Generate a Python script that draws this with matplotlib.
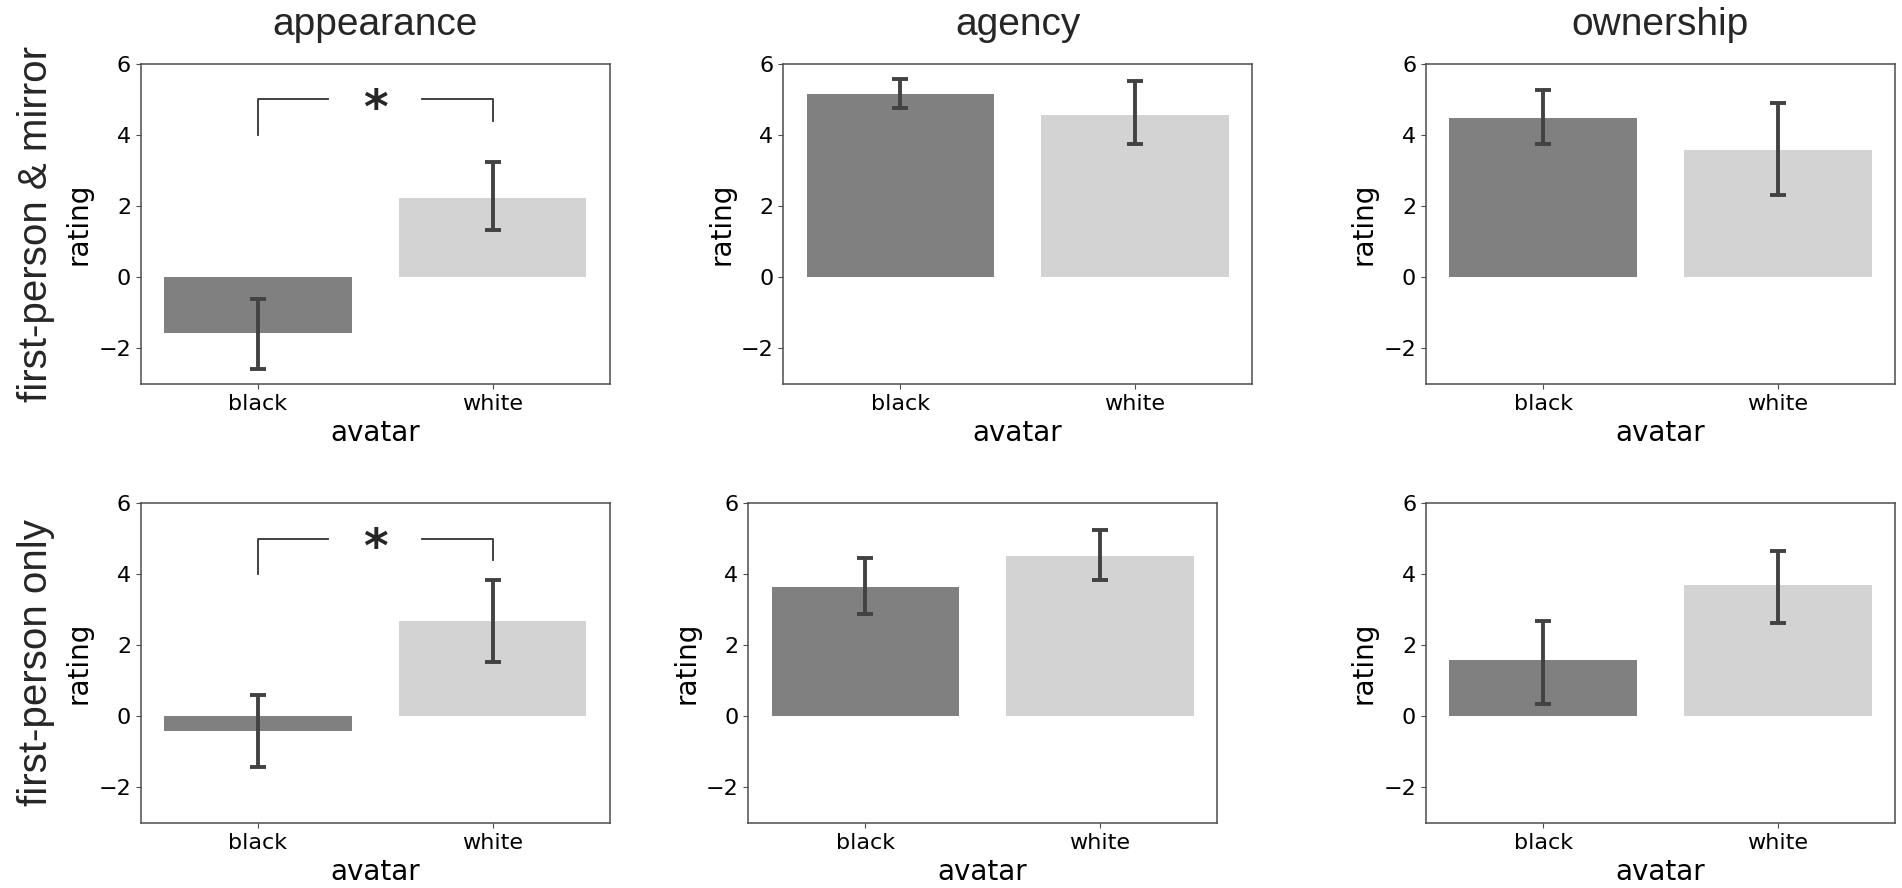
import numpy as np
import matplotlib
matplotlib.use("Agg")
import matplotlib.pyplot as plt

# labels
measures = ['appearance', 'agency', 'ownership']
conditions = ['first-person & mirror', 'first-person only']
avatars = ['black', 'white']

# mean rating per measure, [black, white]
mirror_means = [[-1.58, 2.22], [5.15, 4.57], [4.49, 3.57]]
only_means = [[-0.40, 2.69], [3.63, 4.51], [1.57, 3.68]]

# confidence interval ends per measure, [black, white]
mirror_lo = [[-2.58, 1.32], [4.75, 3.74], [3.74, 2.32]]
mirror_hi = [[-0.60, 3.23], [5.58, 5.51], [5.26, 4.91]]
only_lo = [[-1.43, 1.52], [2.87, 3.82], [0.34, 2.63]]
only_hi = [[0.60, 3.82], [4.46, 5.24], [2.69, 4.65]]

# significance marks: (measure index, star label)
significant = [(0, '*')]

means_all = [mirror_means, only_means]
lo_all = [mirror_lo, only_lo]
hi_all = [mirror_hi, only_hi]

bar_colors = ['#808080', '#d3d3d3']
err_color = '#424242'
arial = ['Liberation Sans', 'DejaVu Sans']

fig = plt.figure(figsize=(19.02, 8.88), dpi=100)

W, H = 0.2466, 0.3604
lefts = [[0.0740, 0.4117, 0.7497], [0.0740, 0.3933, 0.7497]]
bottoms = [0.5676, 0.0732]

x = np.arange(len(avatars))
for r in range(2):
    for c in range(3):
        ax = fig.add_axes([lefts[r][c], bottoms[r], W, H])
        m = np.array(means_all[r][c])
        lo = np.array(lo_all[r][c])
        hi = np.array(hi_all[r][c])
        ax.bar(x, m, width=0.8, color=bar_colors)
        ax.errorbar(x, m, yerr=[m - lo, hi - m], fmt='none', ecolor=err_color,
                    elinewidth=2.8, capsize=5.5, capthick=2.8)
        ax.set_xlim(-0.5, 1.5)
        ax.set_ylim(-3, 6)
        ax.set_yticks([-2, 0, 2, 4, 6])
        ax.set_xticks(x)
        ax.set_xticklabels(avatars)
        ax.tick_params(labelsize=16, color='0.3')
        ax.set_xlabel('avatar', fontsize=20)
        ax.set_ylabel('rating', fontsize=20)
        for s in ax.spines.values():
            s.set_color('0.3')
            s.set_linewidth(1.1)
        for idx, star in significant:
            if idx == c:
                ax.plot([0, 0, 0.3], [4.0, 5, 5], color='0.2', lw=1.3)
                ax.plot([0.7, 1, 1], [5, 5, 4.4], color='0.2', lw=1.3)
                ax.text(0.5, 4.7, star, ha='center', va='center',
                        fontsize=34, fontweight='bold', color='0.15')
        if r == 0:
            ax.set_title(measures[c], fontsize=28, family=arial, pad=21, color='0.15')
    fig.text(0.019, bottoms[r] + H / 2, conditions[r], rotation=90,
             ha='center', va='center', fontsize=29, family=arial, color='0.15')

fig.savefig('out.png', dpi=100)
